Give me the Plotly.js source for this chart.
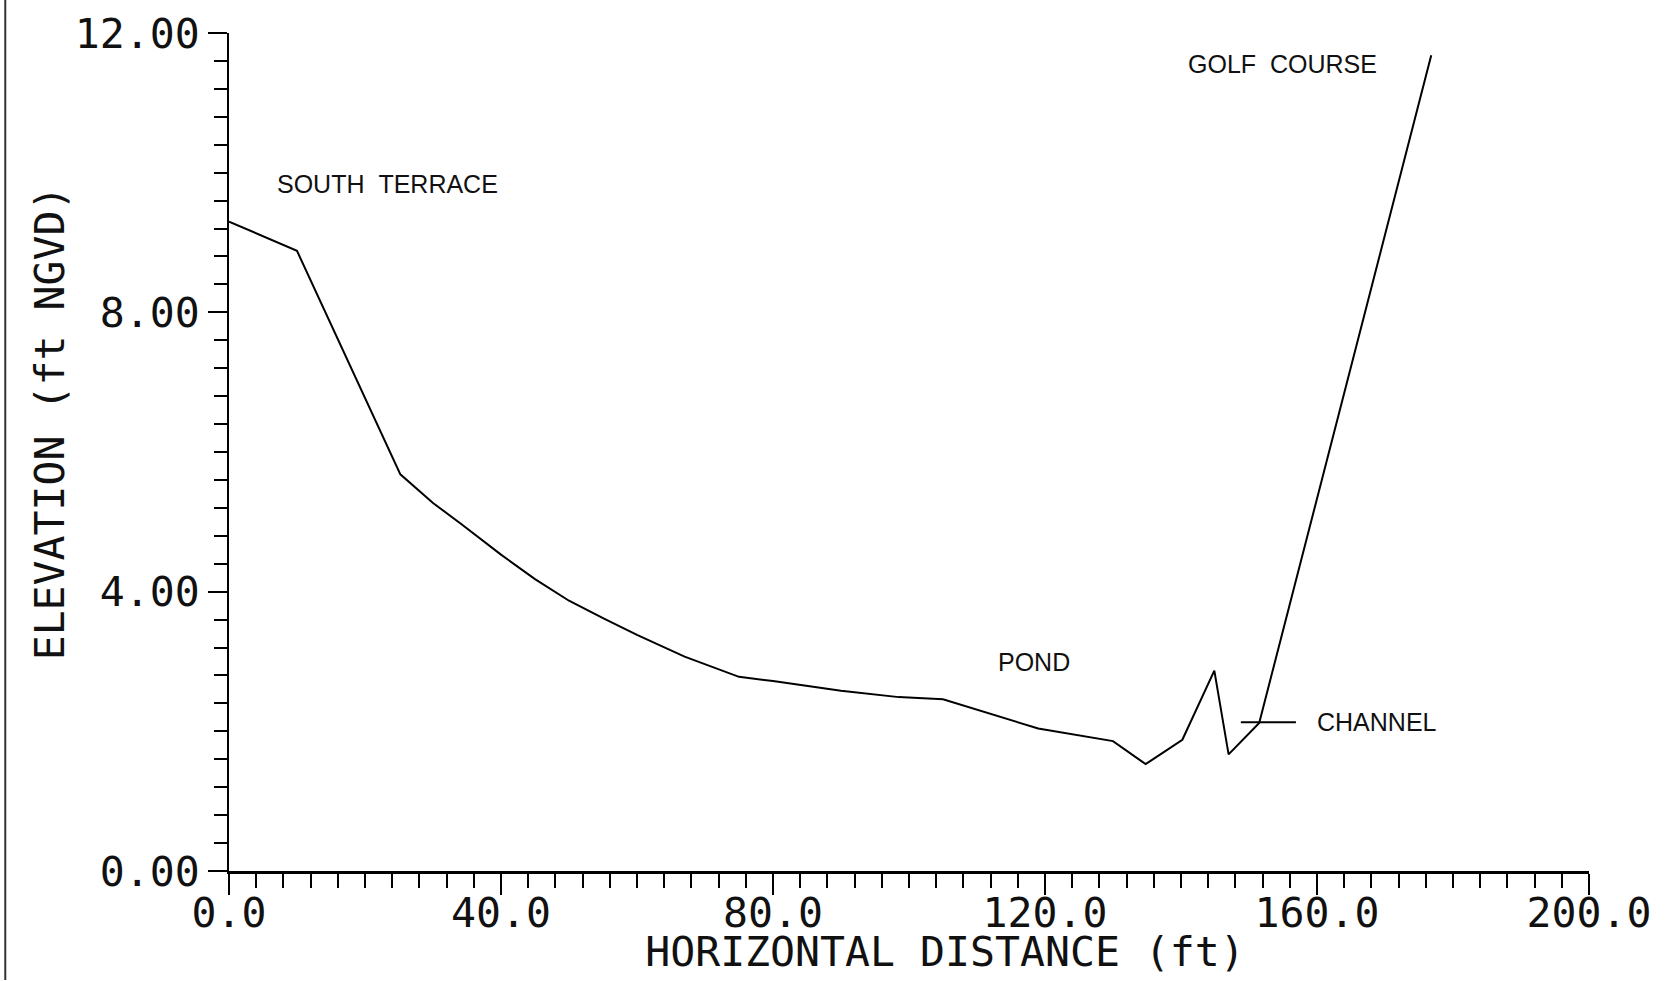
<!DOCTYPE html>
<html>
<head>
<meta charset="utf-8">
<script src="https://cdn.plot.ly/plotly-3.0.1.min.js"></script>
<style>html,body{margin:0;padding:0;background:#fff;}#chart{width:1670px;height:981px;}</style>
</head>
<body>
<div id="chart"></div>
<script>
// Ground profile (horizontal distance ft, elevation ft NGVD)
const distance = [0, 10, 25.2, 30, 34, 40, 45, 50, 55, 60, 67, 75, 80, 90, 98.5, 105, 119, 130, 134.8, 140.2, 144.9, 147, 151.5, 176.8];
const elevation = [9.30, 8.88, 5.68, 5.27, 4.98, 4.53, 4.18, 3.87, 3.62, 3.38, 3.07, 2.78, 2.72, 2.58, 2.49, 2.46, 2.04, 1.86, 1.53, 1.88, 2.87, 1.67, 2.12, 11.68];

// Channel water-level marker
const channelX = [148.8, 156.9];
const channelY = [2.13, 2.13];

// Text labels
const labelText = ["SOUTH\u00a0\u00a0TERRACE", "GOLF\u00a0\u00a0COURSE", "POND", "CHANNEL"];
const labelX = [6.7, 140.8, 112.8, 159.7];
const labelY = [9.84, 11.56, 3.0, 2.13];

const xTicks = [0, 40, 80, 120, 160, 200];
const yTicks = [0, 4, 8, 12];

const tickFont = {family: "DejaVu Sans Mono", size: 41.5, color: "#111"};

const traces = [
  {x: distance, y: elevation, type: "scatter", mode: "lines",
   line: {color: "#000", width: 2}, showlegend: false, hoverinfo: "x+y"},
  {x: channelX, y: channelY, type: "scatter", mode: "lines",
   line: {color: "#000", width: 2}, showlegend: false, hoverinfo: "skip"}
];

const annotations = labelText.map((t, i) => ({
  x: labelX[i], y: labelY[i], xref: "x", yref: "y", text: t,
  showarrow: false, xanchor: "left", yanchor: "middle",
  font: {family: "Liberation Sans", size: 25, color: "#111"}
}));

const layout = {
  width: 1670, height: 981,
  margin: {l: 229, r: 81, t: 33, b: 110},
  paper_bgcolor: "#fff", plot_bgcolor: "#fff",
  showlegend: false,
  xaxis: {
    range: [0, 200], autorange: false,
    tickvals: xTicks, tickformat: ".1f",
    ticks: "outside", ticklen: 21, tickwidth: 2, tickcolor: "#000",
    minor: {dtick: 4, ticks: "outside", ticklen: 14, tickwidth: 2, tickcolor: "#000"},
    showline: true, linecolor: "#000", linewidth: 2.5,
    showgrid: false, zeroline: false,
    tickfont: tickFont, ticklabelstandoff: -17,
    title: {text: "HORIZONTAL DISTANCE (ft)", font: tickFont, standoff: 0}
  },
  yaxis: {
    range: [0, 12], autorange: false,
    tickvals: yTicks, tickformat: ".2f",
    ticks: "outside", ticklen: 19, tickwidth: 2, tickcolor: "#000",
    minor: {dtick: 0.4, ticks: "outside", ticklen: 13, tickwidth: 2, tickcolor: "#000"},
    showline: true, linecolor: "#000", linewidth: 2,
    showgrid: false, zeroline: false,
    tickfont: tickFont,
    title: {text: "ELEVATION (ft NGVD)", font: tickFont, standoff: 4}
  },
  annotations: annotations,
  shapes: [
    {type: "line", xref: "paper", yref: "paper", x0: -0.1645, x1: -0.1645, y0: -0.13, y1: 1.04,
     line: {color: "#333", width: 2}}
  ]
};

Plotly.newPlot("chart", traces, layout, {displayModeBar: false, staticPlot: true}).then(gd => {
  // The original plot's axis titles sit off-centre; nudge them to match.
  const xt = gd.querySelector(".g-xtitle");
  if (xt) xt.setAttribute("transform", "translate(36,1)");
  const yt = gd.querySelector(".g-ytitle");
  if (yt) yt.setAttribute("transform", "translate(7,-29)");
});
</script>
</body>
</html>
